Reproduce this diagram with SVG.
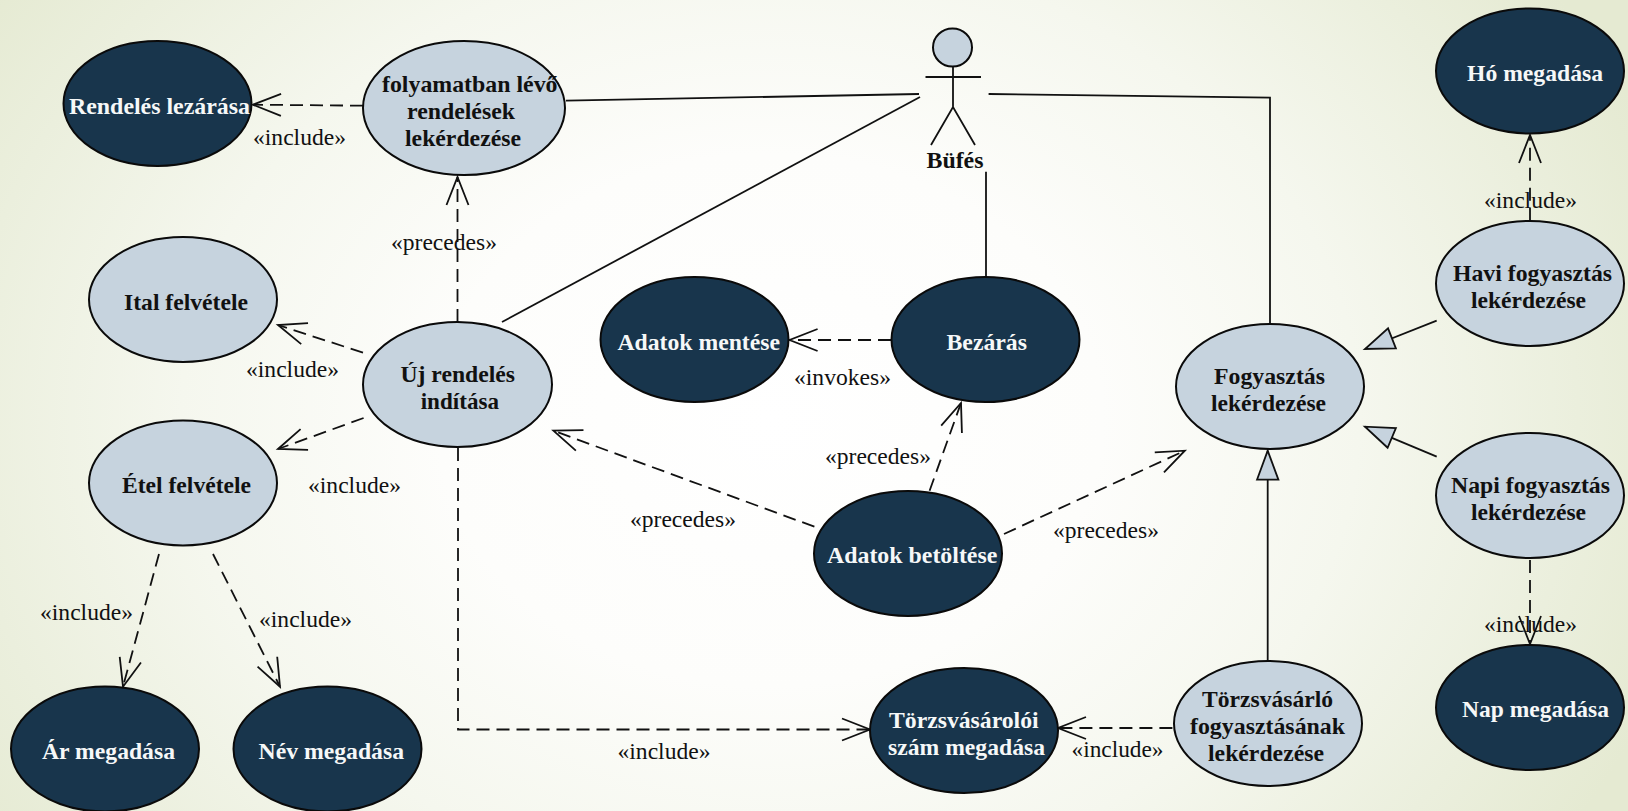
<svg xmlns="http://www.w3.org/2000/svg" width="1628" height="811" viewBox="0 0 1628 811">
<style>
text{font-family:"Liberation Serif","Times New Roman",serif;font-size:24px}
.n text,.b{font-weight:bold}
ellipse{stroke:#0a0a0a;stroke-width:2}
.d ellipse{fill:#18354c}.d text{fill:#f6f8f8}
.l ellipse{fill:#c6d3de}.l text{fill:#111}
.c path{fill:none;stroke:#111;stroke-width:1.8}
.c .da{stroke-dasharray:13 7;marker-end:url(#open)}
.c .g{marker-end:url(#tri)}
.lab{fill:#111}
</style>
<defs>
<radialGradient id="bg" gradientUnits="userSpaceOnUse" cx="0" cy="0" r="1" gradientTransform="translate(770 420) scale(950 760)">
<stop offset="0" stop-color="#ffffff"/><stop offset=".35" stop-color="#fdfdfb"/><stop offset=".62" stop-color="#f5f7ee"/><stop offset=".85" stop-color="#ebefdd"/><stop offset="1" stop-color="#e5ead2"/>
</radialGradient>
<marker id="open" markerUnits="userSpaceOnUse" markerWidth="40" markerHeight="30" refX="30" refY="15" orient="auto" overflow="visible"><path d="M2 4L30 15L2 26" fill="none" stroke="#111" stroke-width="1.8"/></marker>
<marker id="tri" markerUnits="userSpaceOnUse" markerWidth="40" markerHeight="30" refX="31" refY="15" orient="auto" overflow="visible"><path d="M2 4.3L31 15L2 25.7Z" fill="#c6d3de" stroke="#111" stroke-width="1.8"/></marker>
</defs>
<rect width="1628" height="811" fill="url(#bg)"/>
<g id="connectors" class="c">
<path d="M566 100.7L919 94"/>
<path d="M502 322L920 97"/>
<path d="M988.6 94L1270 97.7V324"/>
<path d="M986 171.7V277"/>
<path class="da" d="M363 105.7L253 104.7"/>
<path class="da" d="M457.5 322V177"/>
<path class="da" d="M363 352.7L278 325"/>
<path class="da" d="M363.6 418L278 449"/>
<path class="da" d="M159 554L123 686.7"/>
<path class="da" d="M213 554L280 686.7"/>
<path class="da" d="M458 448V729.5H870"/>
<path class="da" d="M1172.4 728H1058"/>
<path class="da" d="M891 340H789.6"/>
<path class="da" d="M929.6 490.7L961 403"/>
<path class="da" d="M814.4 526.7L553.4 430.7"/>
<path class="da" d="M1004 534L1184.8 450.7"/>
<path class="da" d="M1530 220.7V135"/>
<path class="da" d="M1530 560V644"/>
<path class="g" d="M1436.7 320.7L1365 349"/>
<path class="g" d="M1436.7 456.7L1365 426.7"/>
<path class="g" d="M1267.7 661V450.7"/>
</g>
<g id="connector-labels" class="lab">
<text x="253" y="144.5" textLength="93" lengthAdjust="spacingAndGlyphs">«include»</text>
<text x="391" y="250" textLength="106" lengthAdjust="spacingAndGlyphs">«precedes»</text>
<text x="246" y="377" textLength="93" lengthAdjust="spacingAndGlyphs">«include»</text>
<text x="308" y="492.5" textLength="93" lengthAdjust="spacingAndGlyphs">«include»</text>
<text x="40" y="619.5" textLength="93" lengthAdjust="spacingAndGlyphs">«include»</text>
<text x="259" y="627" textLength="93" lengthAdjust="spacingAndGlyphs">«include»</text>
<text x="794" y="384.5" textLength="97" lengthAdjust="spacingAndGlyphs">«invokes»</text>
<text x="825" y="464" textLength="106" lengthAdjust="spacingAndGlyphs">«precedes»</text>
<text x="630" y="527" textLength="106" lengthAdjust="spacingAndGlyphs">«precedes»</text>
<text x="1053" y="538" textLength="106" lengthAdjust="spacingAndGlyphs">«precedes»</text>
<text x="617.5" y="758.5" textLength="93" lengthAdjust="spacingAndGlyphs">«include»</text>
<text x="1071.5" y="757" textLength="92" lengthAdjust="spacingAndGlyphs">«include»</text>
<text x="1484" y="208" textLength="93" lengthAdjust="spacingAndGlyphs">«include»</text>
<text x="1484" y="632" textLength="93" lengthAdjust="spacingAndGlyphs">«include»</text>
</g>
<g id="actor-bufes" class="n l">
<ellipse cx="952.5" cy="47.5" rx="19.5" ry="19"/>
<path d="M953 67V107M925.5 77H981M931 145L953 107L975 145" fill="none" stroke="#111" stroke-width="1.8"/>
<text x="926.5" y="168" textLength="57" lengthAdjust="spacingAndGlyphs">Büfés</text>
</g>
<g id="rendeles-lezarasa" class="n d"><ellipse cx="157.5" cy="103.5" rx="94" ry="62.5"/><text x="69" y="114" textLength="181" lengthAdjust="spacingAndGlyphs">Rendelés lezárása</text></g>
<g id="folyamatban" class="n l"><ellipse cx="464" cy="108" rx="101" ry="67"/><text x="382" y="91.7" textLength="175.5" lengthAdjust="spacingAndGlyphs">folyamatban lévő</text><text x="407" y="119" textLength="108" lengthAdjust="spacingAndGlyphs">rendelések</text><text x="405" y="146" textLength="116" lengthAdjust="spacingAndGlyphs">lekérdezése</text></g>
<g id="ital-felvetele" class="n l"><ellipse cx="183" cy="299.5" rx="94" ry="62.5"/><text x="124" y="310" textLength="124" lengthAdjust="spacingAndGlyphs">Ital felvétele</text></g>
<g id="uj-rendeles" class="n l"><ellipse cx="457.5" cy="384.5" rx="94.5" ry="62.5"/><text x="400.5" y="382" textLength="114.5" lengthAdjust="spacingAndGlyphs">Új rendelés</text><text x="420.7" y="409" textLength="78.3" lengthAdjust="spacingAndGlyphs">indítása</text></g>
<g id="etel-felvetele" class="n l"><ellipse cx="183" cy="483" rx="94" ry="62.5"/><text x="122" y="493" textLength="129" lengthAdjust="spacingAndGlyphs">Étel felvétele</text></g>
<g id="ar-megadasa" class="n d"><ellipse cx="105" cy="749" rx="94" ry="62.5"/><text x="42" y="759" textLength="133" lengthAdjust="spacingAndGlyphs">Ár megadása</text></g>
<g id="nev-megadasa" class="n d"><ellipse cx="327.5" cy="749" rx="94" ry="62.5"/><text x="258.6" y="759" textLength="145.4" lengthAdjust="spacingAndGlyphs">Név megadása</text></g>
<g id="adatok-mentese" class="n d"><ellipse cx="694.5" cy="339.5" rx="94" ry="62.5"/><text x="617.4" y="350" textLength="162.6" lengthAdjust="spacingAndGlyphs">Adatok mentése</text></g>
<g id="bezaras" class="n d"><ellipse cx="985.5" cy="339.5" rx="94" ry="62.5"/><text x="946.5" y="350" textLength="80.5" lengthAdjust="spacingAndGlyphs">Bezárás</text></g>
<g id="adatok-betoltese" class="n d"><ellipse cx="908" cy="553.5" rx="94" ry="62.5"/><text x="827" y="563" textLength="170.3" lengthAdjust="spacingAndGlyphs">Adatok betöltése</text></g>
<g id="torzsvasaroloi" class="n d"><ellipse cx="964" cy="730.5" rx="94" ry="62.5"/><text x="889" y="728" textLength="149.6" lengthAdjust="spacingAndGlyphs">Törzsvásárolói</text><text x="888" y="755" textLength="157" lengthAdjust="spacingAndGlyphs">szám megadása</text></g>
<g id="fogyasztas" class="n l"><ellipse cx="1270" cy="386.5" rx="94" ry="62.5"/><text x="1214" y="384" textLength="111" lengthAdjust="spacingAndGlyphs">Fogyasztás</text><text x="1211" y="411" textLength="115" lengthAdjust="spacingAndGlyphs">lekérdezése</text></g>
<g id="torzsvasarlo" class="n l"><ellipse cx="1268" cy="723.5" rx="94" ry="62.5"/><text x="1202" y="706.7" textLength="131" lengthAdjust="spacingAndGlyphs">Törzsvásárló</text><text x="1190" y="734" textLength="155" lengthAdjust="spacingAndGlyphs">fogyasztásának</text><text x="1208" y="761" textLength="116" lengthAdjust="spacingAndGlyphs">lekérdezése</text></g>
<g id="ho-megadasa" class="n d"><ellipse cx="1530" cy="71" rx="94" ry="62.5"/><text x="1467" y="80.7" textLength="136" lengthAdjust="spacingAndGlyphs">Hó megadása</text></g>
<g id="havi" class="n l"><ellipse cx="1530" cy="283.5" rx="94" ry="62.5"/><text x="1453" y="281" textLength="159" lengthAdjust="spacingAndGlyphs">Havi fogyasztás</text><text x="1471" y="307.7" textLength="115" lengthAdjust="spacingAndGlyphs">lekérdezése</text></g>
<g id="napi" class="n l"><ellipse cx="1530" cy="495.5" rx="94" ry="62.5"/><text x="1451" y="492.7" textLength="159" lengthAdjust="spacingAndGlyphs">Napi fogyasztás</text><text x="1471" y="520" textLength="115" lengthAdjust="spacingAndGlyphs">lekérdezése</text></g>
<g id="nap-megadasa" class="n d"><ellipse cx="1530" cy="707.5" rx="94" ry="62.5"/><text x="1462" y="716.7" textLength="147" lengthAdjust="spacingAndGlyphs">Nap megadása</text></g>
</svg>
